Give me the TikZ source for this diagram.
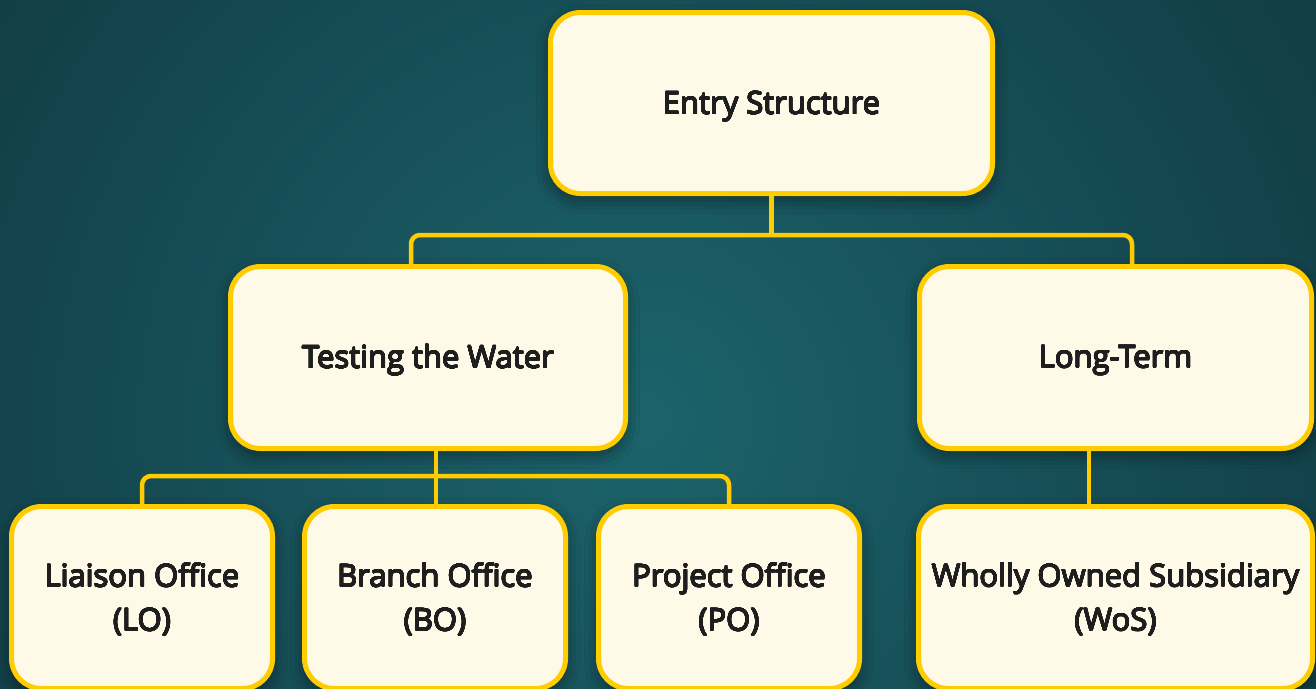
\documentclass[tikz,border=0pt]{standalone}
\usepackage{fontspec}
\setmainfont{Open Sans}
\usepackage[copies]{contour}
\contourlength{0.45pt}
\contournumber{24}
\usetikzlibrary{shadows.blur}
\definecolor{bgdark}{HTML}{123E47}
\definecolor{bglight}{HTML}{1C636B}
\definecolor{boxfill}{HTML}{FFF9E7}
\definecolor{boxline}{HTML}{FFCC00}
\definecolor{ink}{HTML}{1E1E1E}
\newcommand{\heavy}[1]{\contour{ink}{#1}}
\tikzset{
  orgbox/.style={draw=boxline, line width=5pt, fill=boxfill, rounded corners=30pt,
    inner sep=0pt,
    blur shadow={shadow xshift=0pt, shadow yshift=-6pt, shadow blur radius=14pt, shadow opacity=45}},
  lbl/.style={align=center, text=ink, font=\fontsize{31}{44}\selectfont, inner sep=0pt},
  conn/.style={draw=boxline, line width=4.5pt, rounded corners=9pt}
}
\begin{document}
\begin{tikzpicture}[x=1pt,y=-1pt]
  \useasboundingbox (0,0) rectangle (1316,688);
  % background
  \fill[bgdark] (0,0) rectangle (1316,688);
  \begin{scope}
    \clip (0,0) rectangle (1316,688);
    \shade[inner color=bglight, outer color=bgdark] (640,420) circle (760);
  \end{scope}

  % boxes
  \node[orgbox, minimum width=442pt, minimum height=181pt] (entry) at (771.5,103) {};
  \node[orgbox, minimum width=395pt, minimum height=182pt] (test) at (428,357.5) {};
  \node[orgbox, minimum width=392pt, minimum height=182pt] (long) at (1115.5,357.5) {};
  \node[orgbox, minimum width=261pt, minimum height=182pt] (lo) at (142,597.5) {};
  \node[orgbox, minimum width=261pt, minimum height=182pt] (bo) at (435,597.5) {};
  \node[orgbox, minimum width=261pt, minimum height=182pt] (po) at (729,597.5) {};
  \node[orgbox, minimum width=394pt, minimum height=182pt] (wos) at (1115.5,597.5) {};

  % labels
  \node[lbl] (entryt) at ([yshift=-4pt]entry.center) {\heavy{Entry Structure}};
  \node[lbl] (testt) at ([yshift=-3pt]test.center) {\heavy{Testing the Water}};
  \node[lbl] (longt) at ([yshift=-3pt]long.center) {\heavy{Long-Term}};
  \node[lbl] (lot) at ([yshift=-2pt]lo.center) {\heavy{Liaison Office}\\\heavy{(LO)}};
  \node[lbl] (bot) at ([yshift=-2pt]bo.center) {\heavy{Branch Office}\\\heavy{(BO)}};
  \node[lbl] (pot) at ([yshift=-2pt]po.center) {\heavy{Project Office}\\\heavy{(PO)}};
  \node[lbl] (wost) at ([yshift=-2pt]wos.center) {\heavy{Wholly Owned Subsidiary}\\\heavy{(WoS)}};

  % junction points of the connectors
  \coordinate (bus1) at (771.5,235);
  \coordinate (tj) at (411,0);
  \coordinate (lj) at (1132,0);
  \coordinate (bus2) at (436,476);
  \coordinate (ls) at (1089,0);

  % connectors
  \draw[conn] (entry.south) -- (bus1);
  \draw[conn] (test.north -| tj) |- (bus1) -| (long.north -| lj);
  \draw[conn] (test.south -| bus2) -- (bo.north -| bus2);
  \draw[conn] (lo.north) |- (bus2) -| (po.north);
  \draw[conn] (long.south -| ls) -- (wos.north -| ls);
\end{tikzpicture}
\end{document}
